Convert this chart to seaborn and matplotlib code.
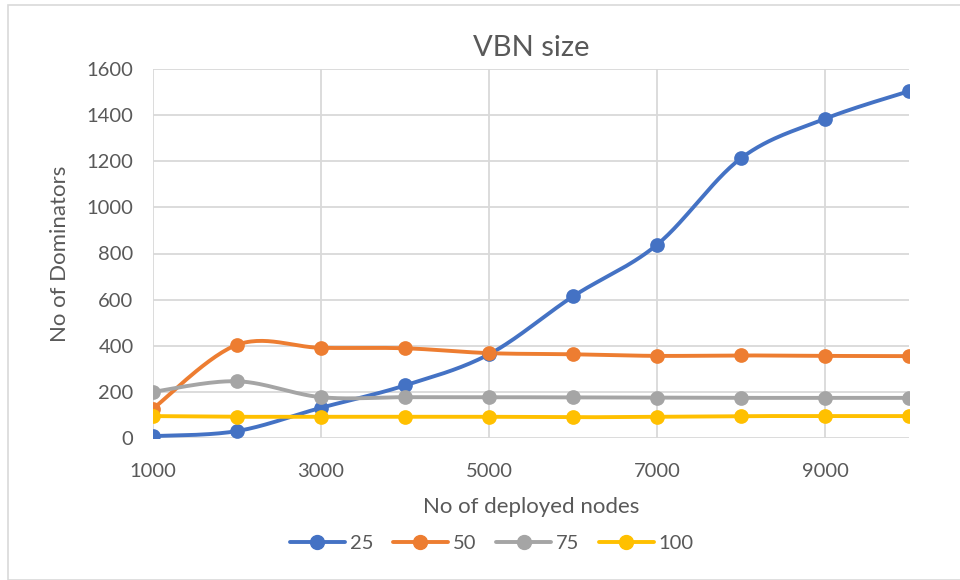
import numpy as np
import pandas as pd
import matplotlib
matplotlib.use("Agg")
import matplotlib.pyplot as plt
from matplotlib.lines import Line2D
from matplotlib.patches import Rectangle
import seaborn as sns

# Data: number of dominators in the VBN for each deployment size and range
nodes = [1000, 2000, 3000, 4000, 5000, 6000, 7000, 8000, 9000, 10000]
series_names = ["25", "50", "75", "100"]
r25 = [8, 30, 131, 228, 363, 614, 838, 1213, 1384, 1504]
r50 = [127, 404, 391, 389, 368, 363, 356, 358, 356, 355]
r75 = [200, 246, 177, 177, 177, 176, 175, 174, 174, 174]
r100 = [95, 92, 92, 92, 92, 90, 92, 95, 95, 95]
x_ticks = [1000, 3000, 5000, 7000, 9000]
y_ticks = [0, 200, 400, 600, 800, 1000, 1200, 1400, 1600]

colors = ["#4472C4", "#ED7D31", "#A5A5A5", "#FFC000"]
text_color = "#595959"
grid_color = "#D9D9D9"

sns.set_theme(style="white")
plt.rcParams["font.family"] = ["Lato", "DejaVu Sans"]


def smooth(xs, ys, steps=30):
    """Cubic Bezier smoothing through every point (Catmull-Rom style)."""
    xs = np.asarray(xs, float)
    ys = np.asarray(ys, float)
    px = np.concatenate([[xs[0]], xs, [xs[-1]]])
    py = np.concatenate([[ys[0]], ys, [ys[-1]]])
    out_x, out_y = [], []
    for i in range(1, len(px) - 2):
        p0 = np.array([px[i - 1], py[i - 1]])
        p1 = np.array([px[i], py[i]])
        p2 = np.array([px[i + 1], py[i + 1]])
        p3 = np.array([px[i + 2], py[i + 2]])
        c1 = p1 + (p2 - p0) / 6.0
        c2 = p2 - (p3 - p1) / 6.0
        t = np.linspace(0, 1, steps, endpoint=(i == len(px) - 3))
        b = ((1 - t) ** 3)[:, None] * p1 + (3 * (1 - t) ** 2 * t)[:, None] * c1 \
            + (3 * (1 - t) * t ** 2)[:, None] * c2 + (t ** 3)[:, None] * p2
        out_x.extend(b[:, 0])
        out_y.extend(b[:, 1])
    return np.array(out_x), np.array(out_y)


fig = plt.figure(figsize=(9.6, 5.8), dpi=100)
fig.patch.set_facecolor("white")
# chart frame (its right edge runs past the image)
fig.patches.append(Rectangle((7.5 / 960, 0.5 / 580), 1.2, 575 / 580, transform=fig.transFigure,
                             fill=False, edgecolor="#D9D9D9", linewidth=1.2))

ax = fig.add_axes([153 / 960, (580 - 438) / 580, 756 / 960, 369 / 580])

all_series = [r25, r50, r75, r100]
for name, vals, col in zip(series_names, all_series, colors):
    sx, sy = smooth(nodes, vals)
    curve = pd.DataFrame({"x": sx, "y": sy})
    sns.lineplot(data=curve, x="x", y="y", ax=ax, color=col, linewidth=2.8,
                 sort=False, estimator=None, zorder=3)
    pts = pd.DataFrame({"x": nodes, "y": vals})
    sns.scatterplot(data=pts, x="x", y="y", ax=ax, color=col, s=112,
                    edgecolor=col, linewidth=0, zorder=4)

ax.set_xlim(1000, 10000)
ax.set_ylim(0, 1600)
ax.set_xticks(x_ticks)
ax.set_yticks(y_ticks)
ax.set_xticklabels([str(v) for v in x_ticks])
ax.set_yticklabels([str(v) for v in y_ticks])
ax.grid(True, color=grid_color, linewidth=1.3)
ax.set_axisbelow(True)
for s in ax.spines.values():
    s.set_visible(False)
ax.tick_params(axis="both", length=0, labelsize=14.5, colors=text_color)
ax.tick_params(axis="x", pad=18)
ax.tick_params(axis="y", pad=14)

ax.set_title("VBN size", fontsize=21, color=text_color, pad=9)
ax.set_xlabel("No of deployed nodes", fontsize=16, color=text_color, labelpad=12)
ax.set_ylabel("No of Dominators", fontsize=16, color=text_color, labelpad=12)

handles = [Line2D([0], [0], color=c, linewidth=2.8, marker="o", markersize=10)
           for c in colors]
leg = fig.legend(handles, series_names, loc="center", bbox_to_anchor=(492 / 960, 1 - 543 / 580),
                 ncol=4, frameon=False, fontsize=14.5, handlelength=2.7,
                 columnspacing=1.0, handletextpad=0.25)
for t in leg.get_texts():
    t.set_color(text_color)

fig.savefig("out.png", dpi=100, facecolor="white")
